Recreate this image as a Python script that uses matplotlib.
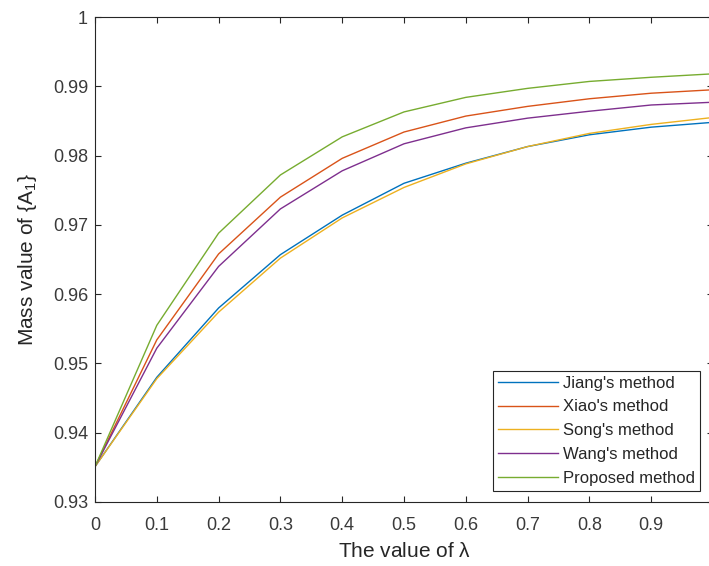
import matplotlib
matplotlib.use("Agg")
import matplotlib.pyplot as plt

# lambda values and mass of {A1} for each method
lam = [0, 0.1, 0.2, 0.3, 0.4, 0.5, 0.6, 0.7, 0.8, 0.9, 1.0]
jiang = [0.9351, 0.9480, 0.9580, 0.9657, 0.9714, 0.9760, 0.9789, 0.9813, 0.9830, 0.9841, 0.9848]
xiao = [0.9351, 0.9534, 0.9658, 0.9740, 0.9796, 0.9834, 0.9857, 0.9871, 0.9882, 0.9890, 0.9895]
song = [0.9351, 0.9478, 0.9574, 0.9652, 0.9710, 0.9754, 0.9788, 0.9813, 0.9832, 0.9845, 0.9855]
wang = [0.9351, 0.9522, 0.9640, 0.9723, 0.9778, 0.9817, 0.9840, 0.9854, 0.9864, 0.9873, 0.9877]
proposed = [0.9351, 0.9555, 0.9688, 0.9772, 0.9827, 0.9863, 0.9884, 0.9897, 0.9907, 0.9913, 0.9918]

names = ["Jiang's method", "Xiao's method", "Song's method", "Wang's method", "Proposed method"]
colores = ["#0072BD", "#D95319", "#EDB120", "#7E2F8E", "#77AC30"]

xlabels = ["0", "0.1", "0.2", "0.3", "0.4", "0.5", "0.6", "0.7", "0.8", "0.9", "1"]
yt = [0.93, 0.94, 0.95, 0.96, 0.97, 0.98, 0.99, 1.0]
ylabels = ["0.93", "0.94", "0.95", "0.96", "0.97", "0.98", "0.99", "1"]

plt.rcParams['font.family'] = ['Liberation Sans', 'DejaVu Sans']
plt.rcParams['mathtext.default'] = 'regular'
txt = '#262626'

fig = plt.figure(figsize=(7.09, 5.66), dpi=100)
ax = fig.add_axes([95/709, 64/566, 618/709, 485/566])

for serie, nombre, c in zip([jiang, xiao, song, wang, proposed], names, colores):
    ax.plot(lam, serie, color=c, lw=1.0, label=nombre)

ax.set_xlim(0, 1)
ax.set_ylim(0.93, 1)
ax.set_xticks(lam)
ax.set_xticklabels(xlabels)
ax.set_yticks(yt)
ax.set_yticklabels(ylabels)
ax.tick_params(direction='in', top=True, right=True, length=4, width=0.8,
               colors=txt, labelsize=13, labelcolor='#3a3a3a')
ax.tick_params(axis='x', pad=11)
ax.tick_params(axis='y', pad=5)
for s in ax.spines.values():
    s.set_color(txt)
    s.set_linewidth(0.8)

ax.set_xlabel(r"The value of $\lambda$", fontsize=15, color=txt)
ax.set_ylabel(r"Mass value of {A$_1$}", fontsize=15, color=txt)
ax.xaxis.set_label_coords(0.5, -0.083)
ax.yaxis.set_label_coords(-0.091, 0.5)

leg = ax.legend(loc='lower right', bbox_to_anchor=(0.979, 0.0227), fontsize=12,
                fancybox=False, framealpha=1, edgecolor=txt, borderpad=0.3,
                labelspacing=0.53, handlelength=3.6, handletextpad=0.3, borderaxespad=0)
leg.get_frame().set_linewidth(0.8)
for t in leg.get_texts():
    t.set_color(txt)

fig.savefig("out.png", dpi=100)
